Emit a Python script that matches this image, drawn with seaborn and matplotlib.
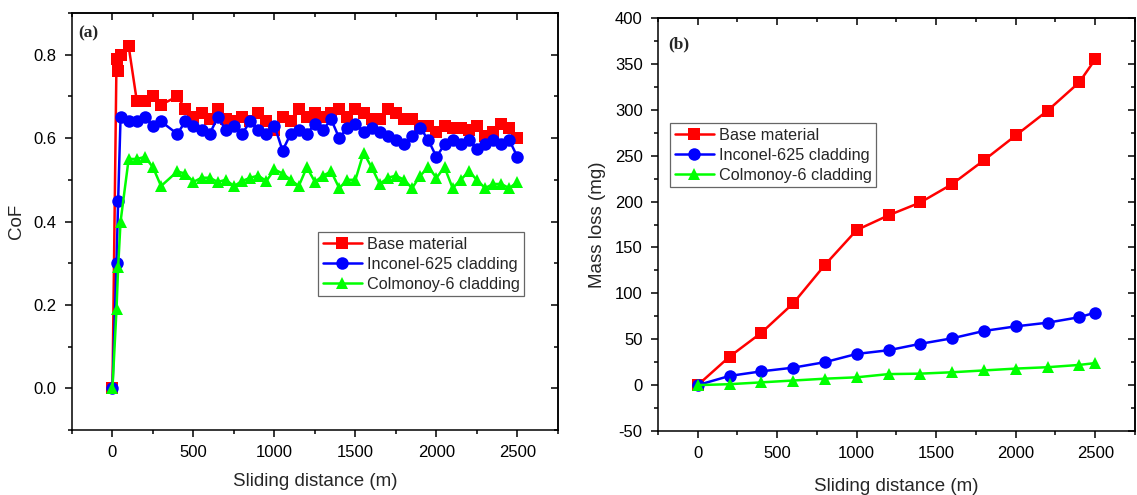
import numpy as np
import matplotlib
matplotlib.use("Agg")
import matplotlib.pyplot as plt
from matplotlib.ticker import MultipleLocator
import seaborn as sns

# --- data: (a) coefficient of friction vs sliding distance ---
cof_dist = [0, 25, 35, 50, 100, 150, 200, 250, 300,
            400, 450, 500, 550, 600, 650, 700, 750, 800, 850, 900, 950,
            1000, 1050, 1100, 1150, 1200, 1250, 1300, 1350, 1400, 1450,
            1500, 1550, 1600, 1650, 1700, 1750, 1800, 1850, 1900, 1950,
            2000, 2050, 2100, 2150, 2200, 2250, 2300, 2350, 2400, 2450, 2500]
cof_base = [0.0, 0.79, 0.76, 0.80, 0.82, 0.69, 0.69, 0.70, 0.68,
            0.70, 0.67, 0.65, 0.66, 0.645, 0.67, 0.645, 0.64, 0.65, 0.64, 0.66, 0.64,
            0.62, 0.65, 0.64, 0.67, 0.65, 0.66, 0.65, 0.66, 0.67, 0.65,
            0.67, 0.66, 0.645, 0.645, 0.67, 0.66, 0.645, 0.645, 0.63, 0.63,
            0.615, 0.63, 0.625, 0.625, 0.62, 0.63, 0.605, 0.615, 0.635, 0.625, 0.60]
cof_inconel = [0.0, 0.30, 0.45, 0.65, 0.64, 0.64, 0.65, 0.63, 0.64,
               0.61, 0.64, 0.63, 0.62, 0.61, 0.65, 0.62, 0.63, 0.61, 0.64, 0.62, 0.61,
               0.63, 0.57, 0.61, 0.62, 0.61, 0.635, 0.62, 0.645, 0.60, 0.625,
               0.635, 0.615, 0.625, 0.615, 0.605, 0.595, 0.585, 0.605, 0.625, 0.595,
               0.555, 0.585, 0.595, 0.585, 0.595, 0.575, 0.585, 0.595, 0.585, 0.595, 0.555]
cof_colmonoy = [0.0, 0.19, 0.29, 0.40, 0.55, 0.55, 0.555, 0.53, 0.485,
                0.52, 0.515, 0.495, 0.505, 0.505, 0.495, 0.50, 0.485, 0.497, 0.505, 0.51, 0.497,
                0.525, 0.515, 0.50, 0.485, 0.53, 0.495, 0.51, 0.52, 0.48, 0.50,
                0.50, 0.565, 0.53, 0.49, 0.505, 0.51, 0.50, 0.48, 0.51, 0.53,
                0.505, 0.53, 0.48, 0.50, 0.52, 0.50, 0.48, 0.49, 0.49, 0.48, 0.495]

# --- data: (b) mass loss vs sliding distance ---
ml_dist = [0, 200, 400, 600, 800, 1000, 1200, 1400, 1600, 1800, 2000, 2200, 2400, 2500]
ml_base = [0, 31, 57, 89, 131, 169, 185, 199, 219, 245, 272, 299, 330, 355]
ml_inconel = [0, 10, 15, 19, 25, 34, 38, 45, 51, 59, 64, 68, 74, 79]
ml_colmonoy = [0, 1, 3, 5, 7, 8.5, 12, 12.5, 14, 16, 18, 19.5, 22, 24]

labels = ["Base material", "Inconel-625 cladding", "Colmonoy-6 cladding"]
colors = ["#FF0000", "#0000FF", "#00FF00"]
markers = ["s", "o", "^"]

sns.set_theme(style="ticks")
plt.rcParams["font.family"] = ["Liberation Sans", "DejaVu Sans"]
plt.rcParams["axes.unicode_minus"] = False
plt.rcParams["axes.linewidth"] = 1.1
plt.rcParams["axes.edgecolor"] = "black"
plt.rcParams["xtick.color"] = "black"
plt.rcParams["ytick.color"] = "black"

fig = plt.figure(figsize=(11.37, 4.95), dpi=100)
ax1 = fig.add_axes([0.0633, 0.1313, 0.4274, 0.8424])
ax2 = fig.add_axes([0.5787, 0.1293, 0.4195, 0.8343])


def draw(ax, x, series, msize):
    for y, lab, c, m in zip(series, labels, colors, markers):
        sns.lineplot(x=x, y=y, ax=ax, color=c, marker=m, markersize=msize,
                     markeredgewidth=0, linewidth=1.8, label=lab, sort=False)


def style_axes(ax, xmaj, xmin, ymaj, ymin):
    ax.xaxis.set_major_locator(MultipleLocator(xmaj))
    ax.xaxis.set_minor_locator(MultipleLocator(xmin))
    ax.yaxis.set_major_locator(MultipleLocator(ymaj))
    ax.yaxis.set_minor_locator(MultipleLocator(ymin))
    ax.tick_params(which="major", direction="out", length=5, width=1.1,
                   labelsize=12, pad=6)
    ax.tick_params(which="minor", direction="out", length=3, width=1.1)
    # mirrored ticks pointing inwards on top and right
    top = ax.secondary_xaxis("top")
    top.xaxis.set_major_locator(MultipleLocator(xmaj))
    top.xaxis.set_minor_locator(MultipleLocator(xmin))
    top.tick_params(which="major", direction="in", length=5, width=1.1, labeltop=False)
    top.tick_params(which="minor", direction="in", length=3, width=1.1)
    right = ax.secondary_yaxis("right")
    right.yaxis.set_major_locator(MultipleLocator(ymaj))
    right.yaxis.set_minor_locator(MultipleLocator(ymin))
    right.tick_params(which="major", direction="in", length=5, width=1.1, labelright=False)
    right.tick_params(which="minor", direction="in", length=3, width=1.1)
    for s in ax.spines.values():
        s.set_visible(True)


def legend(ax, anchor):
    leg = ax.legend(loc="upper left", bbox_to_anchor=anchor, fontsize=11.7,
                    frameon=True, fancybox=False, edgecolor="0.25",
                    borderpad=0.3, labelspacing=0.3, handlelength=2.4,
                    handletextpad=0.3, borderaxespad=0)
    leg.get_frame().set_linewidth(0.9)


# (a) CoF
draw(ax1, cof_dist, [cof_base, cof_inconel, cof_colmonoy], 9)
ax1.set_xlim(-250, 2750)
ax1.set_ylim(-0.1, 0.9)
style_axes(ax1, 500, 250, 0.2, 0.1)
ax1.yaxis.set_major_formatter(matplotlib.ticker.FormatStrFormatter("%.1f"))
ax1.set_xlabel("Sliding distance (m)", fontsize=13.5, labelpad=9)
ax1.set_ylabel("CoF", fontsize=13.5, labelpad=6)
legend(ax1, (0.506, 0.475))
ax1.text(0.012, 0.952, "(a)", transform=ax1.transAxes, fontsize=12.5,
         fontweight="bold", family="Liberation Serif", va="center", ha="left")

# (b) mass loss
draw(ax2, ml_dist, [ml_base, ml_inconel, ml_colmonoy], 9)
ax2.set_xlim(-250, 2750)
ax2.set_ylim(-50, 400)
style_axes(ax2, 500, 250, 50, 25)
ax2.set_xlabel("Sliding distance (m)", fontsize=13.5, labelpad=12)
ax2.set_ylabel("Mass loss (mg)", fontsize=13.5, labelpad=6)
legend(ax2, (0.025, 0.746))
ax2.text(0.021, 0.937, "(b)", transform=ax2.transAxes, fontsize=12.5,
         fontweight="bold", family="Liberation Serif", va="center", ha="left")

fig.savefig("out.png", dpi=100)
